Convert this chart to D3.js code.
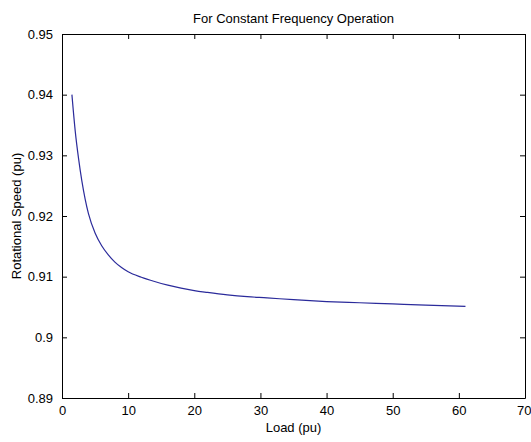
<!DOCTYPE html>
<html>
<head>
<meta charset="utf-8">
<script src="https://cdn.jsdelivr.net/npm/d3@7"></script>
<style>
  body { margin: 0; background: #fff; }
  text { font-family: "Liberation Sans", Arial, sans-serif; fill: #000; }
</style>
</head>
<body>
<div id="chart-area"></div>
<script>
// values
var loads = [1.5, 2, 2.5, 3, 3.5, 4, 5, 6, 7, 8, 9, 10, 12, 14, 16, 18, 20, 22, 25, 28, 31, 35, 40, 45, 50, 55, 61];
var speeds = [0.9400, 0.9340, 0.9295, 0.9258, 0.9228, 0.9204, 0.9172, 0.9151, 0.9136, 0.9124, 0.9115, 0.9108,
  0.9099, 0.9092, 0.9086, 0.9081, 0.9077, 0.9074, 0.9070, 0.9067, 0.9065, 0.9062, 0.9059, 0.9057, 0.9055, 0.9053, 0.9051];
var xTicks = [0, 10, 20, 30, 40, 50, 60, 70];
var yTicks = [0.89, 0.9, 0.91, 0.92, 0.93, 0.94, 0.95];

var W = 531, H = 442;
var m = {left: 62, right: 6, top: 34, bottom: 44};

var x = d3.scaleLinear().domain([0, 70]).range([m.left, W - m.right]);
var y = d3.scaleLinear().domain([0.89, 0.95]).range([H - m.bottom, m.top]);

var svg = d3.select("#chart-area").append("svg").attr("width", W).attr("height", H);

// axes, ticks pointing inwards like matlab
var fmt = function(d){ return d3.format("")(+d.toFixed(2)); };
var xAxis = svg.append("g").attr("transform", "translate(0," + (H - m.bottom) + ")")
  .call(d3.axisBottom(x).tickValues(xTicks).tickSizeInner(-5).tickSizeOuter(0).tickPadding(8));
svg.append("g").attr("transform", "translate(0," + m.top + ")")
  .call(d3.axisTop(x).tickValues(xTicks).tickSizeInner(-5).tickSizeOuter(0).tickFormat(""));
svg.append("g").attr("transform", "translate(" + m.left + ",0)")
  .call(d3.axisLeft(y).tickValues(yTicks).tickSizeInner(-5).tickSizeOuter(0).tickPadding(9).tickFormat(fmt));
svg.append("g").attr("transform", "translate(" + (W - m.right) + ",0)")
  .call(d3.axisRight(y).tickValues(yTicks).tickSizeInner(-5).tickSizeOuter(0).tickFormat(""));

svg.selectAll(".domain").attr("stroke", "#000");
svg.selectAll(".tick line").attr("stroke", "#000");
svg.selectAll(".tick text").style("font-size", "13px").style("font-family", "'Liberation Sans', Arial, sans-serif");
// last label sits on the window edge, pull it in a bit
xAxis.selectAll(".tick text").filter(d => d === 70).attr("text-anchor", "end").attr("dx", 6);

var line = d3.line().x((d, i) => x(loads[i])).y((d, i) => y(speeds[i])).curve(d3.curveMonotoneX);
svg.append("path").datum(speeds)
  .attr("d", line)
  .attr("fill", "none")
  .attr("stroke", "#2b2b9b")
  .attr("stroke-width", 1.2);

svg.append("text").attr("x", (m.left + W - m.right) / 2).attr("y", 23)
  .attr("text-anchor", "middle").style("font-size", "13px").text("For Constant Frequency Operation");
svg.append("text").attr("x", (m.left + W - m.right) / 2).attr("y", 432)
  .attr("text-anchor", "middle").style("font-size", "13px").text("Load (pu)");
svg.append("text").attr("transform", "translate(21," + ((m.top + H - m.bottom) / 2) + ") rotate(-90)")
  .attr("text-anchor", "middle").style("font-size", "13px").text("Rotational Speed (pu)");
</script>
</body>
</html>
